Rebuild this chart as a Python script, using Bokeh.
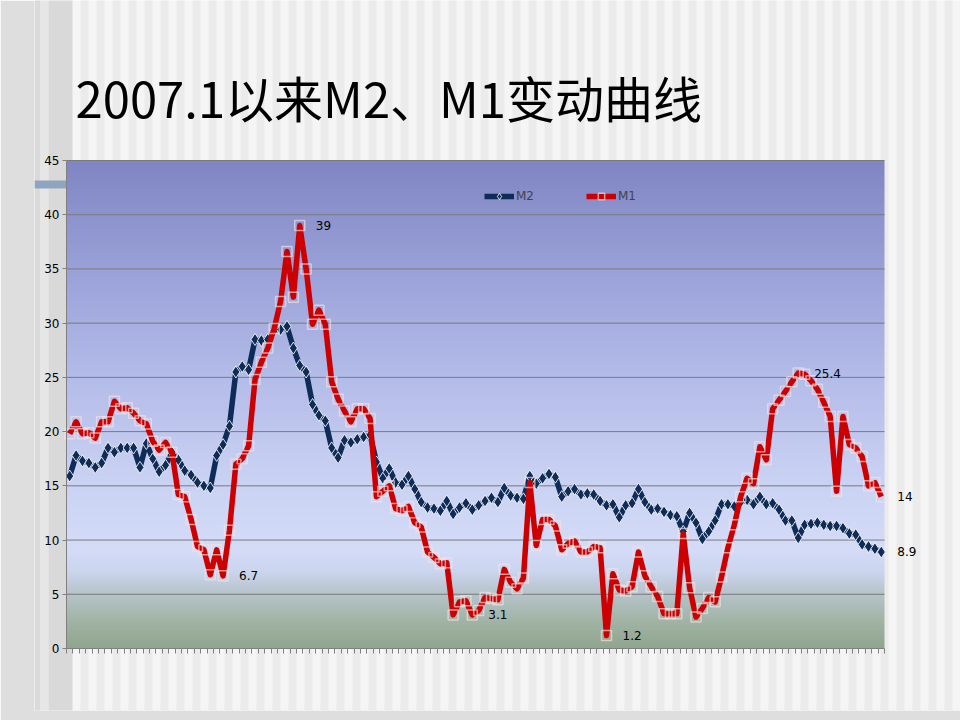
import numpy as np
from bokeh.plotting import figure
from bokeh.models import (Range1d, FixedTicker, Label, LabelSet,
                          Legend, LegendItem, ColumnDataSource)
from bokeh.core.properties import value
from bokeh.embed import file_html
from bokeh.resources import INLINE

# ---------------- data ----------------
months = [f"{y}.{m}" for y in range(2007, 2018) for m in range(1, 13)][:128]

m2 = [15.9, 17.8, 17.3, 17.1, 16.7, 17.1, 18.5, 18.1, 18.5, 18.5, 18.5, 16.7,
      18.9, 17.5, 16.3, 16.9, 18.1, 17.4, 16.4, 16.0, 15.3, 15.0, 14.8, 17.8,
      18.8, 20.5, 25.5, 26.0, 25.7, 28.5, 28.4, 28.5, 29.3, 29.4, 29.7, 27.7,
      26.1, 25.5, 22.5, 21.5, 21.0, 18.5, 17.6, 19.2, 19.0, 19.3, 19.5, 19.7,
      17.2, 15.7, 16.6, 15.3, 15.1, 15.9, 14.7, 13.5, 13.0, 12.9, 12.7, 13.6,
      12.4, 13.0, 13.4, 12.8, 13.2, 13.6, 13.9, 13.5, 14.8, 14.1, 13.9, 13.8,
      15.9, 15.2, 15.7, 16.1, 15.8, 14.0, 14.5, 14.7, 14.2, 14.3, 14.2, 13.6,
      13.2, 13.3, 12.1, 13.2, 13.4, 14.7, 13.5, 12.8, 12.9, 12.6, 12.3, 12.2,
      10.8, 12.5, 11.6, 10.1, 10.8, 11.8, 13.3, 13.3, 13.1, 13.5, 13.7, 13.3,
      14.0, 13.3, 13.4, 12.8, 11.8, 11.8, 10.2, 11.4, 11.5, 11.6, 11.4, 11.3,
      11.3, 11.1, 10.6, 10.5, 9.6, 9.4, 9.2, 8.9]

m1 = [19.8, 20.9, 19.8, 19.9, 19.4, 20.9, 20.9, 22.8, 22.1, 22.2, 21.7, 21.0,
      20.7, 19.1, 18.3, 19.0, 18.1, 14.2, 14.0, 11.9, 9.4, 9.1, 6.8, 9.1,
      6.7, 10.9, 17.0, 17.5, 18.7, 24.8, 26.4, 27.7, 29.5, 32.0, 36.6, 32.4,
      39.0, 35.0, 29.9, 31.2, 29.9, 24.6, 23.0, 21.9, 20.9, 22.1, 22.1, 21.2,
      14.0, 14.5, 15.0, 12.9, 12.7, 13.1, 11.6, 11.2, 8.9, 8.4, 7.8, 7.9,
      3.1, 4.3, 4.4, 3.1, 3.5, 4.7, 4.6, 4.5, 7.3, 6.1, 5.5, 6.5,
      15.3, 9.5, 11.9, 11.9, 11.3, 9.1, 9.7, 9.9, 8.9, 8.9, 9.4, 9.3,
      1.2, 6.9, 5.4, 5.3, 5.7, 8.9, 6.7, 5.7, 4.8, 3.2, 3.2, 3.2,
      10.6, 5.6, 2.9, 3.7, 4.7, 4.3, 6.6, 9.3, 11.4, 14.0, 15.7, 15.2,
      18.6, 17.4, 22.1, 22.9, 23.7, 24.6, 25.4, 25.3, 24.7, 23.9, 22.7, 21.4,
      14.5, 21.4, 18.8, 18.5, 17.7, 15.0, 15.3, 14.0]

y_ticks = [0, 5, 10, 15, 20, 25, 30, 35, 40, 45]
m1_label_idx = [24, 36, 63, 84, 114, 127]
m2_label_idx = [127]
title_text = "2007.1以来M2、M1变动曲线"

# ---------------- layout (page pixels) ----------------
W, H = 960, 720
PL, PR, PT, PB = 66, 884, 160, 648          # plot area edges
BORDER_L, BORDER_B = 34, 10                  # axis panels
N = len(months)
YMAX = y_ticks[-1]
ux = N / (PR - PL)
uy = YMAX / (PB - PT)

def fx(px):
    return (px - PL) * ux

def fy(py):
    return (PB - py) * uy

p = figure(width=W, height=H, output_backend="svg", toolbar_location=None,
           x_range=Range1d(fx(BORDER_L), fx(W)), y_range=Range1d(fy(H - BORDER_B), fy(0)),
           min_border_left=BORDER_L, min_border_right=0,
           min_border_top=0, min_border_bottom=BORDER_B)
p.outline_line_color = None
p.border_fill_color = "#DEDEDE"
p.background_fill_color = "#F5F5F5"
p.grid.visible = False

# slide stripes (decorative)
sl, sr, sc = [], [], []
for x0 in range(80, W, 16):
    sl.append(fx(x0)); sr.append(fx(x0 + 8)); sc.append("#EBEBEB")
sl += [fx(BORDER_L), fx(40), fx(48)]
sr += [fx(40), fx(48), fx(72)]
sc += ["#DADADA", "#E6E6E6", "#D9D9D9"]
p.quad(left=sl, right=sr, bottom=fy(H + 20), top=fy(-20), fill_color=sc,
       line_color=None, level="image")
# blue bar at left
p.quad(left=fx(BORDER_L), right=0, bottom=fy(188), top=fy(180),
       fill_color="#8DA5BE", line_color=None, level="image")

# plot-area gradient
stops = [(0, "#90A68E"), (2.5, "#A2B4A6"), (5, "#B6C4CA"), (7, "#CBD5EE"),
         (9, "#D4DCF8"), (15, "#CBD3F4"), (25, "#B4BCE9"), (35, "#9AA1D8"),
         (45, "#7F86C3")]
def h2r(h):
    return [int(h[i:i + 2], 16) for i in (1, 3, 5)]
lv = np.linspace(0, YMAX, 451)
sv = [s[0] for s in stops]
cc = np.array([h2r(s[1]) for s in stops], float)
img = np.zeros((len(lv), 1), dtype=np.uint32)
view = img.view(dtype=np.uint8).reshape((len(lv), 1, 4))
for k in range(3):
    view[:, 0, k] = np.interp(lv, sv, cc[:, k]).astype(np.uint8)
view[:, 0, 3] = 255
p.image_rgba(image=[img], x=0, y=0, dw=N, dh=YMAX, level="image")

# gridlines limited to the plot area
p.segment(x0=0, x1=N, y0=y_ticks[1:], y1=y_ticks[1:], line_color="#7A7A7A",
          line_width=1, level="underlay")

# axes at the plot-area edges
p.yaxis.fixed_location = 0
p.yaxis.bounds = (0, YMAX)
p.yaxis.ticker = FixedTicker(ticks=y_ticks)
p.yaxis.axis_line_color = "#808080"
p.yaxis.major_tick_line_color = "#808080"
p.yaxis.major_tick_in = 0
p.yaxis.major_tick_out = 4
p.yaxis.minor_tick_line_color = None
p.yaxis.major_label_standoff = 3
p.yaxis.major_label_text_font = "DejaVu Sans"
p.yaxis.major_label_text_font_size = "12px"
p.yaxis.major_label_text_color = "#000000"

p.xaxis.fixed_location = 0
p.xaxis.bounds = (0, N)
p.xaxis.ticker = FixedTicker(ticks=[], minor_ticks=list(range(N + 1)))
p.xaxis.axis_line_color = "#808080"
p.xaxis.major_tick_line_color = None
p.xaxis.major_tick_out = 0
p.xaxis.minor_tick_line_color = "#808080"
p.xaxis.minor_tick_in = 0
p.xaxis.minor_tick_out = 5

# series
src = ColumnDataSource(dict(x=[i + 0.5 for i in range(N)], m2=m2, m1=m1, month=months))
NAVY, RED = "#0E2C57", "#CC0000"
r2l = p.line("x", "m2", source=src, line_color=NAVY, line_width=5.5, line_join="round")
r2m = p.scatter("x", "m2", source=src, marker="diamond", size=12, fill_color=NAVY,
                line_color="white", line_width=1, line_alpha=0.85)
r1l = p.line("x", "m1", source=src, line_color=RED, line_width=5.5, line_join="round")
r1m = p.scatter("x", "m1", source=src, marker="square", size=10, fill_color=None,
                line_color="#F6E2E2", line_width=1.5, line_alpha=0.65)

# data labels
lab = ColumnDataSource(dict(
    x=[i + 0.5 for i in m1_label_idx] + [i + 0.5 for i in m2_label_idx],
    y=[m1[i] for i in m1_label_idx] + [m2[i] for i in m2_label_idx],
    t=[f"{m1[i]:g}" for i in m1_label_idx] + [f"{m2[i]:g}" for i in m2_label_idx]))
p.add_layout(LabelSet(x="x", y="y", text="t", source=lab, x_offset=16,
                      text_baseline="middle", text_font=value("DejaVu Sans"),
                      text_font_size=value("12px"), text_color="#000000"))

# legends
for name, lx in (("M2", 484), ("M1", 586)):
    rs = [r2l, r2m] if name == "M2" else [r1l, r1m]
    leg = Legend(items=[LegendItem(label=name, renderers=rs)],
                 location=(lx - BORDER_L, (H - BORDER_B) - 204),
                 orientation="horizontal", border_line_color=None,
                 background_fill_alpha=0, padding=0, margin=0, glyph_width=30,
                 glyph_height=16, label_standoff=2, label_text_font="DejaVu Sans",
                 label_text_font_size="12px", label_height=16)
    p.add_layout(leg, "center")

# title
p.add_layout(Label(x=fx(75), y=fy(96), text=title_text, text_font="Noto Sans CJK SC",
                   text_font_size="49px", text_baseline="alphabetic", text_color="#000000"))

open("out.html", "w").write(file_html(p, INLINE))
